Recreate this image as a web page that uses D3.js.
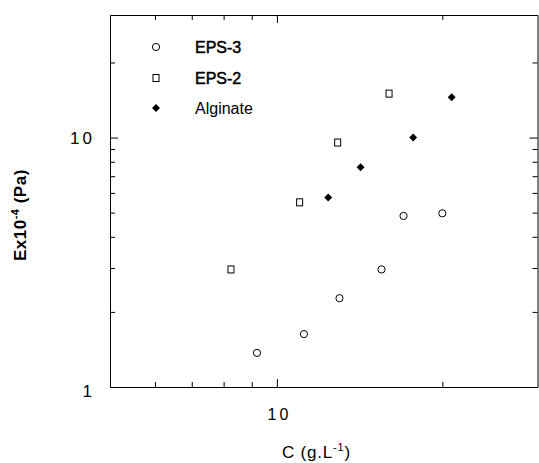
<!DOCTYPE html>
<html>
<head>
<meta charset="utf-8">
<script src="https://cdn.jsdelivr.net/npm/d3@7"></script>
<style>
  body { margin: 0; background: #fff; }
  svg { display: block; font-family: "Liberation Sans", Arial, sans-serif; }
  .axis path, .axis line { stroke: #000; stroke-width: 1; }
  .axis text { fill: #000; }
</style>
</head>
<body>
<div class="chart"></div>
<script>
const WIDTH = 539;
const HEIGHT = 463;

const LEFT = 110, RIGHT = 537.5, TOP = 15, BOTTOM = 387;

// concentrations (g/L) and moduli (x10^4 Pa)
var eps3C = [9.2, 11.2, 13.0, 15.5, 17.0, 20.0];
var eps3E = [1.37, 1.63, 2.27, 2.96, 4.85, 4.97];

var eps2C = [8.25, 11.0, 12.9, 16.0];
var eps2E = [2.96, 5.5, 9.55, 15.0];

var algC = [12.4, 14.2, 17.7, 20.8];
var algE = [5.75, 7.6, 10.0, 14.5];

var seriesNames = ["EPS-3", "EPS-2", "Alginate"];

var xTicks = [6, 7, 8, 9, 10, 20];
var yTicks = [2, 3, 4, 5, 6, 7, 8, 9, 10, 20];
var xLabels = {10: "10"};
var yLabels = {1: "1", 10: "10"};

var _svg, _x, _y;

var translate = function (x, y) {
    return "translate(" + x + "," + y + ")";
};

var zip = function (xs, ys) {
    return xs.map(function (v, i) { return {c: v, e: ys[i]}; });
};

var styleAxis = function (g, major, isX) {
    g.classed("axis", true);
    g.selectAll(".tick line")
        .filter(function (d) { return d === 10; })
        .each(function () {
            var l = d3.select(this);
            if (isX) l.attr("y2", +l.attr("y2") * major);
            else l.attr("x2", +l.attr("x2") * major);
        });
};

var generateAxes = function () {
    var bottom = _svg.append("g")
        .attr("transform", translate(0, BOTTOM))
        .call(d3.axisBottom(_x).tickValues(xTicks).tickSizeInner(-5).tickSizeOuter(0)
            .tickPadding(22).tickFormat(function (d) { return xLabels[d] || ""; }));
    styleAxis(bottom, 1.6, true);
    bottom.selectAll("text").attr("font-size", 16).attr("letter-spacing", 3).attr("dx", 2);

    var top = _svg.append("g")
        .attr("transform", translate(0, TOP))
        .call(d3.axisTop(_x).tickValues(xTicks).tickSizeInner(-5).tickSizeOuter(0)
            .tickFormat(""));
    styleAxis(top, 1.6, true);

    var left = _svg.append("g")
        .attr("transform", translate(LEFT, 0))
        .call(d3.axisLeft(_y).tickValues([1].concat(yTicks)).tickSizeInner(-5).tickSizeOuter(0)
            .tickPadding(15).tickFormat(function (d) { return yLabels[d] || ""; }));
    styleAxis(left, 1.6, false);
    left.selectAll(".tick").filter(function (d) { return d === 1; }).select("line").remove();
    left.selectAll("text").attr("font-size", 17).attr("letter-spacing", 3);
    left.selectAll(".tick").filter(function (d) { return d === 1; }).select("text").attr("dy", "0.55em");

    var right = _svg.append("g")
        .attr("transform", translate(RIGHT, 0))
        .call(d3.axisRight(_y).tickValues(yTicks).tickSizeInner(-5).tickSizeOuter(0)
            .tickFormat(""));
    styleAxis(right, 1.6, false);
};

var generatePoints = function () {
    var g = _svg.append("g");

    g.selectAll("circle.eps3").data(zip(eps3C, eps3E))
        .enter().append("circle")
        .attr("class", "eps3")
        .attr("cx", function (d) { return _x(d.c); })
        .attr("cy", function (d) { return _y(d.e); })
        .attr("r", 3.6)
        .attr("fill", "none").attr("stroke", "#000").attr("stroke-width", 1);

    g.selectAll("rect.eps2").data(zip(eps2C, eps2E))
        .enter().append("rect")
        .attr("class", "eps2")
        .attr("x", function (d) { return _x(d.c) - 3; })
        .attr("y", function (d) { return _y(d.e) - 3.5; })
        .attr("width", 6).attr("height", 7)
        .attr("fill", "none").attr("stroke", "#000").attr("stroke-width", 1);

    var diamond = d3.symbol().type(d3.symbolDiamond2).size(40);
    g.selectAll("path.alg").data(zip(algC, algE))
        .enter().append("path")
        .attr("class", "alg")
        .attr("d", diamond)
        .attr("transform", function (d) { return translate(_x(d.c), _y(d.e)); })
        .attr("fill", "#000");
};

var generateLegend = function () {
    var lg = _svg.append("g").attr("font-size", 16);
    var rows = [47, 78, 108];

    lg.append("circle").attr("cx", 156).attr("cy", rows[0]).attr("r", 3.6)
        .attr("fill", "none").attr("stroke", "#000");
    lg.append("rect").attr("x", 153).attr("y", rows[1] - 3.5).attr("width", 6).attr("height", 7)
        .attr("fill", "none").attr("stroke", "#000");
    lg.append("path").attr("d", d3.symbol().type(d3.symbolDiamond2).size(40))
        .attr("transform", translate(156, rows[2])).attr("fill", "#000");

    lg.selectAll("text").data(seriesNames)
        .enter().append("text")
        .attr("x", 195)
        .attr("y", function (d, i) { return rows[i] + 5.5; })
        .attr("stroke", function (d, i) { return i < 2 ? "#000" : "none"; })
        .attr("stroke-width", 0.5)
        .text(function (d) { return d; });
};

var generateTitles = function () {
    var xt = _svg.append("text")
        .attr("x", 282).attr("y", 458)
        .attr("font-size", 17)
        .attr("letter-spacing", 0.8);
    xt.append("tspan").text("C (g.L");
    xt.append("tspan").attr("font-size", 11).attr("dy", -7).text("-1");
    xt.append("tspan").attr("dy", 7).text(")");

    var yt = _svg.append("text")
        .attr("transform", translate(26, 261) + " rotate(-90)")
        .attr("font-size", 17)
        .attr("font-weight", "bold")
        .attr("letter-spacing", 0.5);
    yt.append("tspan").text("Ex10");
    yt.append("tspan").attr("font-size", 11).attr("dy", -7).text("-4");
    yt.append("tspan").attr("dy", 7).text(" (Pa)");
};

var generateChart = function () {
    _svg = d3.select(".chart").append("svg")
        .attr("width", WIDTH)
        .attr("height", HEIGHT);

    _x = d3.scaleLog().domain([4.97, 29.8]).range([LEFT, RIGHT]);
    _y = d3.scaleLog().domain([1, 31]).range([BOTTOM, TOP]);

    generateAxes();
    generatePoints();
    generateLegend();
    generateTitles();
};

generateChart();
</script>
</body>
</html>
